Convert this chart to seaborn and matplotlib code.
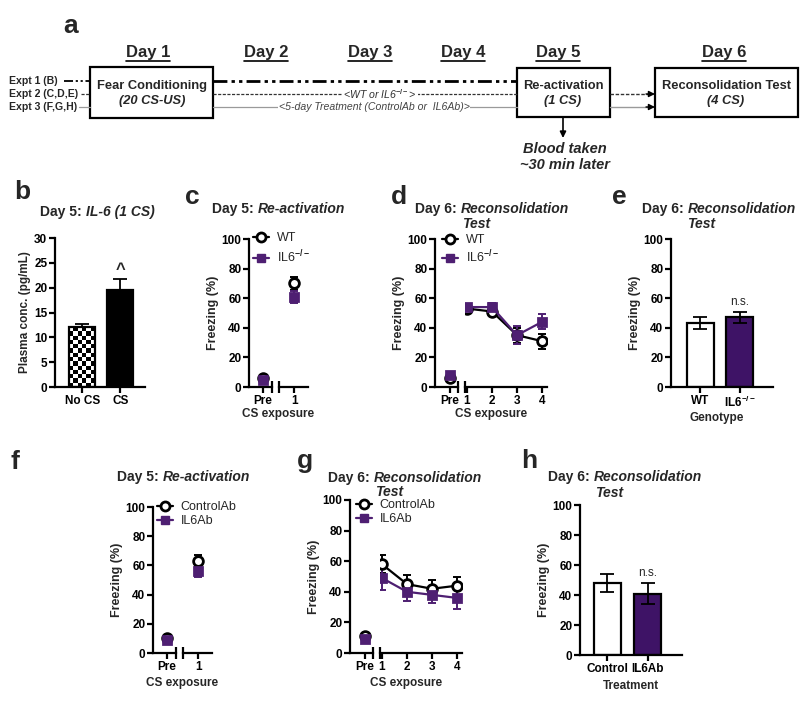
import numpy as np
import pandas as pd
import matplotlib
matplotlib.use("Agg")
import matplotlib.pyplot as plt
import seaborn as sns
from matplotlib.lines import Line2D

# ---------------- data ----------------
# panel b: plasma IL-6
b_groups = ["No CS", "CS"]
b_mean = [12.0, 19.5]
b_sem = [0.7, 2.2]

# panel c: Day 5 re-activation (genotype)
c_names = ["WT", "IL6"]
c_pre_mean = [6, 5]
c_pre_sem = [1, 1]
c_trials = [1]
c_mean = {"WT": [70], "IL6": [61]}
c_sem = {"WT": [4.5], "IL6": [4]}

# panel d: Day 6 reconsolidation test (genotype)
d_pre_mean = [6, 8]
d_pre_sem = [1.5, 1.5]
d_trials = [1, 2, 3, 4]
d_mean = {"WT": [53, 51, 35, 31], "IL6": [54, 54, 35, 44]}
d_sem = {"WT": [2, 1.5, 5, 5], "IL6": [2, 3, 6, 5]}

# panel e: Day 6 mean (genotype)
e_groups = ["WT", "IL6"]
e_mean = [43, 47]
e_sem = [4, 4]

# panel f: Day 5 re-activation (treatment)
f_names = ["ControlAb", "IL6Ab"]
f_pre_mean = [10, 9]
f_pre_sem = [1, 1]
f_trials = [1]
f_mean = {"ControlAb": [63], "IL6Ab": [56]}
f_sem = {"ControlAb": [4], "IL6Ab": [4]}

# panel g: Day 6 reconsolidation test (treatment)
g_pre_mean = [11, 9]
g_pre_sem = [2, 1.5]
g_trials = [1, 2, 3, 4]
g_mean = {"ControlAb": [58, 45, 42, 44], "IL6Ab": [49, 40, 38, 36]}
g_sem = {"ControlAb": [6, 6, 6, 6], "IL6Ab": [8, 6, 5.5, 7]}

# panel h: Day 6 mean (treatment)
h_groups = ["Control", "IL6Ab"]
h_mean = [48, 41]
h_sem = [6, 7]

# diagram (panel a)
day_labels = ["Day 1", "Day 2", "Day 3", "Day 4", "Day 5", "Day 6"]
expt_labels = ["Expt 1 (B)", "Expt 2 (C,D,E)", "Expt 3 (F,G,H)"]

# ---------------- style ----------------
sns.set_theme(style="ticks")
plt.rcParams["font.family"] = ["Liberation Sans", "DejaVu Sans"]
plt.rcParams["font.weight"] = "bold"
plt.rcParams["axes.labelweight"] = "bold"
plt.rcParams["mathtext.fontset"] = "custom"
plt.rcParams["mathtext.rm"] = "Liberation Sans"
plt.rcParams["mathtext.it"] = "Liberation Sans:italic"
plt.rcParams["mathtext.bf"] = "Liberation Sans:bold"

PURPLE = "#4E1F72"
BAR_PURPLE = "#3E1366"
BLACK = "black"

W, H = 800, 702
fig = plt.figure(figsize=(8, 7.02), dpi=100)
ax_a = fig.add_axes([0, 0, 1, 1])
ax_a.set_xlim(0, W)
ax_a.set_ylim(H, 0)
ax_a.axis("off")


def add_ax(x0, x1, ytop, ybot):
    return fig.add_axes([x0 / W, 1 - ybot / H, (x1 - x0) / W, (ybot - ytop) / H])


def style_ax(ax, left=True):
    for s in ["top", "right"]:
        ax.spines[s].set_visible(False)
    ax.spines["left"].set_visible(left)
    ax.spines["bottom"].set_linewidth(1.6)
    ax.spines["left"].set_linewidth(1.6)
    ax.spines["bottom"].set_color("black")
    ax.spines["left"].set_color("black")
    ax.tick_params(axis="both", direction="out", length=4, width=1.6,
                   labelsize=8.5, pad=1.5, color="black", labelcolor="black")
    if not left:
        ax.tick_params(axis="y", left=False, labelleft=False)
    ax.set_facecolor("none")
    ax.set_xlabel("")
    ax.set_ylabel("")


# ---------------- panel a: diagram ----------------
ax_a.text(71, 26, "a", fontsize=19, ha="center", va="center")
day_x = [148, 266, 370, 463, 558, 724]
for lab, x in zip(day_labels, day_x):
    t = ax_a.text(x, 53, lab, fontsize=12, ha="center", va="center")
fig.canvas.draw()
rend = fig.canvas.get_renderer()
for t in ax_a.texts[1:]:
    bb = t.get_window_extent(rend)
    ax_a.plot([bb.x0, bb.x1], [H - bb.y0 + 0.5, H - bb.y0 + 0.5], color="black", lw=1.2)

ys = [81, 94, 107]
for lab, y in zip(expt_labels, ys):
    ax_a.text(9, y, lab, fontsize=7.6, ha="left", va="center")

box_kw = dict(fill=False, ec="black", lw=1.6)
boxes = [(90, 67, 123, 51), (517, 68, 93, 49), (655, 68, 143, 49)]
for (x, y, w, h) in boxes:
    ax_a.add_patch(plt.Rectangle((x, y), w, h, **box_kw))

ax_a.text(152, 86, "Fear Conditioning", fontsize=9.3, ha="center", va="center")
ax_a.text(152, 101, "(20 CS-US)", fontsize=9.3, ha="center", va="center", style="italic")
ax_a.text(563, 86, "Re-activation", fontsize=9.3, ha="center", va="center")
ax_a.text(563, 101, "(1 CS)", fontsize=9.3, ha="center", va="center", style="italic")
ax_a.text(726, 86, "Reconsolidation Test", fontsize=9.3, ha="center", va="center")
ax_a.text(726, 101, "(4 CS)", fontsize=9.3, ha="center", va="center", style="italic")

ls1 = (0, (5, 1.5, 1.2, 1.5, 1.2, 1.5))
ax_a.plot([64, 90], [81, 81], color="black", lw=1.3, ls=ls1)
ax_a.plot([213, 517], [81, 81], color="black", lw=2.0, ls=ls1)
ax_a.plot([81, 90], [94, 94], color="#333333", lw=0.9, ls=(0, (2.5, 1.2)))
ax_a.plot([213, 517], [94, 94], color="#333333", lw=0.9, ls=(0, (2.5, 1.2)))
ax_a.plot([610, 650], [94, 94], color="#333333", lw=1.0, ls=(0, (2.5, 1.2)))
ax_a.plot([79, 90], [107, 107], color="#9a9a9a", lw=0.9)
ax_a.plot([213, 517], [107, 107], color="#9a9a9a", lw=0.9)
ax_a.plot([610, 650], [107, 107], color="#9a9a9a", lw=1.0)
for y in [94, 107]:
    ax_a.annotate("", xy=(655, y), xytext=(646, y),
                  arrowprops=dict(arrowstyle="-|>", color="black", lw=1, mutation_scale=9,
                                  shrinkA=0, shrinkB=0))
ax_a.text(380, 94, r"<WT or IL6$^{-/-}$>", fontsize=7.6, fontweight="normal", style="italic",
          ha="center", va="center", color="#333333",
          bbox=dict(fc="white", ec="none", pad=0.5))
ax_a.text(374, 107, "<5-day Treatment (ControlAb or  IL6Ab)>", fontsize=7.6, fontweight="normal",
          style="italic", ha="center", va="center", color="#444444",
          bbox=dict(fc="white", ec="none", pad=0.5))
ax_a.annotate("", xy=(563, 138), xytext=(563, 118),
              arrowprops=dict(arrowstyle="-|>", color="black", lw=1.2, mutation_scale=9,
                              shrinkA=0, shrinkB=0))
ax_a.text(565, 149, "Blood taken", fontsize=10.5, style="italic", ha="center", va="center")
ax_a.text(565, 165, "~30 min later", fontsize=10.5, style="italic", ha="center", va="center")


# ---------------- helpers ----------------
def panel_title(x, y, bold, ital, y2=None, x2=None):
    t = ax_a.text(x, y, bold, fontsize=10, ha="left", va="center")
    ax_a.annotate(ital, xy=(1, 0), xycoords=t, fontsize=10, style="italic",
                  ha="left", va="bottom")
    if y2 is not None:
        ax_a.text(x2, y2, "Test", fontsize=10, style="italic", ha="left", va="center")


def bar_panel(ax, groups, means, sems, colors, ylim, yticks, upper_only=False, capsize=5,
              xlim=None):
    sns.barplot(x=groups, y=means, hue=groups, palette=colors, legend=False, ax=ax,
                width=0.68, edgecolor="black", linewidth=1.6, saturation=1)
    lower = [0] * len(sems) if upper_only else sems
    ax.errorbar(range(len(groups)), means, yerr=[lower, sems], fmt="none", ecolor="black",
                elinewidth=1.3, capsize=capsize, capthick=1.3, zorder=3)
    ax.set_ylim(*ylim)
    ax.set_yticks(yticks)
    if xlim:
        ax.set_xlim(*xlim)
    style_ax(ax)


def line_panel(ax_pre, ax_main, names, pre_mean, pre_sem, trials, means, sems,
               pre_xlim, main_xlim, capsize=3):
    colors = [BLACK, PURPLE]
    markers = {names[0]: "o", names[1]: "s"}
    pal = {names[0]: BLACK, names[1]: PURPLE}
    df_pre = pd.DataFrame({"trial": [0] * len(names), "group": names, "freezing": pre_mean})
    rows = []
    for n in names:
        for t, v in zip(trials, means[n]):
            rows.append({"trial": t, "group": n, "freezing": v})
    df = pd.DataFrame(rows)
    for ax, d in [(ax_pre, df_pre), (ax_main, df)]:
        sns.lineplot(data=d, x="trial", y="freezing", hue="group", style="group",
                     hue_order=names, style_order=names, markers=markers, dashes=False,
                     palette=pal, ax=ax, legend=False, linewidth=1.6, markersize=7,
                     markeredgewidth=2, zorder=3)
        for ln, c, n in zip(ax.lines, colors, names):
            ln.set_markeredgecolor(c)
            ln.set_markerfacecolor("white" if n == names[0] else c)
            if n != names[0]:
                ln.set_markersize(6.3)
    for n, c, pm, ps in zip(names, colors, pre_mean, pre_sem):
        ax_pre.errorbar([0], [pm], yerr=[ps], fmt="none", ecolor=c, elinewidth=1.4,
                        capsize=capsize, capthick=1.4, zorder=2)
        ax_main.errorbar(trials, means[n], yerr=sems[n], fmt="none", ecolor=c,
                         elinewidth=1.4, capsize=capsize, capthick=1.4, zorder=2)
    for ax in (ax_pre, ax_main):
        ax.set_ylim(0, 100)
    ax_pre.set_xlim(*pre_xlim)
    ax_main.set_xlim(*main_xlim)
    ax_pre.set_xticks([0])
    ax_pre.set_xticklabels(["Pre"])
    ax_pre.set_yticks([0, 20, 40, 60, 80, 100])
    ax_main.set_xticks(trials)
    ax_main.set_xticklabels([str(t) for t in trials])
    style_ax(ax_pre)
    style_ax(ax_main, left=False)
    ax_pre.plot([1], [0], marker="|", ms=9, mew=1.6, color="black",
                transform=ax_pre.transAxes, clip_on=False)
    ax_main.plot([0], [0], marker="|", ms=9, mew=1.6, color="black",
                 transform=ax_main.transAxes, clip_on=False)


def legend(x, y, labels, spacing):
    h1 = Line2D([], [], color=BLACK, marker="o", mfc="white", mec=BLACK, mew=2, ms=6.5, lw=1.6)
    h2 = Line2D([], [], color=PURPLE, marker="s", mfc=PURPLE, mec=PURPLE, ms=6, lw=1.6)
    fig.legend([h1, h2], labels, loc="upper left", bbox_to_anchor=(x / W, 1 - y / H),
               frameon=False, prop={"size": 9, "weight": "normal"}, handlelength=1.3,
               handletextpad=0.6, borderpad=0, borderaxespad=0, labelspacing=spacing)


# ---------------- panel b ----------------
ax_a.text(22, 192, "b", fontsize=19, ha="center", va="center")
panel_title(40, 212, "Day 5: ", "IL-6 (1 CS)")
ax_b = add_ax(55, 145, 238, 387)
bar_panel(ax_b, b_groups, b_mean, b_sem, ["white", "black"], (0, 30), [0, 5, 10, 15, 20, 25, 30],
          upper_only=True, capsize=5, xlim=(-0.72, 1.65))
ax_b.set_ylabel("Plasma conc. (pg/mL)", fontsize=8.5, labelpad=2)
# checkerboard fill for the "No CS" bar
p = ax_b.patches[0]
x0, w, h = p.get_x(), p.get_width(), p.get_height()
disp = ax_b.transData.transform([[x0, 0], [x0 + w, h]])
pw, ph = disp[1] - disp[0]
ncols = 6
nrows = max(1, int(round(ncols * ph / pw)))
checker = np.add.outer(np.arange(nrows), np.arange(ncols)) % 2
im = ax_b.imshow(checker, extent=[x0, x0 + w, 0, h], cmap="gray", origin="lower",
                 aspect="auto", interpolation="nearest", zorder=p.get_zorder() - 0.1)
im.set_clip_path(p)
p.set_facecolor("none")
ax_b.set_xlim(-0.72, 1.65)
ax_b.set_ylim(0, 30)
ax_b.text(1, b_mean[1] + b_sem[1] + 0.4, "^", fontsize=12, ha="center", va="bottom")

# ---------------- panel c ----------------
ax_a.text(192, 197, "c", fontsize=19, ha="center", va="center")
panel_title(212, 209, "Day 5: ", "Re-activation")
c_pre = add_ax(249, 272, 239, 387)
c_main = add_ax(279, 308, 239, 387)
line_panel(c_pre, c_main, c_names, c_pre_mean, c_pre_sem, c_trials, c_mean, c_sem,
           (-0.6, 0.4), (0.48, 1.48))
c_pre.set_ylabel("Freezing (%)", fontsize=9, labelpad=2)
ax_a.text((249 + 308) / 2, 414, "CS exposure", fontsize=8.5, ha="center", va="center")
legend(253, 232, ["WT", r"IL6$^{-/-}$"], 0.35)

# ---------------- panel d ----------------
ax_a.text(399, 197, "d", fontsize=19, ha="center", va="center")
panel_title(415, 209, "Day 6: ", "Reconsolidation", y2=224, x2=462)
d_pre = add_ax(435, 458, 239, 387)
d_main = add_ax(465, 547, 239, 387)
line_panel(d_pre, d_main, c_names, d_pre_mean, d_pre_sem, d_trials, d_mean, d_sem,
           (-0.65, 0.35), (0.92, 4.2))
d_pre.set_ylabel("Freezing (%)", fontsize=9, labelpad=2)
ax_a.text((435 + 547) / 2, 414, "CS exposure", fontsize=8.5, ha="center", va="center")
legend(442, 234, ["WT", r"IL6$^{-/-}$"], 0.2)

# ---------------- panel e ----------------
ax_a.text(619, 197, "e", fontsize=19, ha="center", va="center")
panel_title(642, 209, "Day 6: ", "Reconsolidation", y2=224, x2=687)
ax_e = add_ax(671, 773, 239, 387)
bar_panel(ax_e, e_groups, e_mean, e_sem, ["white", BAR_PURPLE], (0, 100),
          [0, 20, 40, 60, 80, 100], capsize=5, xlim=(-0.73, 1.83))
ax_e.set_xticks([0, 1])
ax_e.set_xticklabels(["WT", r"$\mathbf{IL6^{-/-}}$"])
ax_e.set_ylabel("Freezing (%)", fontsize=9, labelpad=2)
ax_e.text(1, e_mean[1] + e_sem[1] + 2.5, "n.s.", fontsize=8.5, fontweight="normal",
          ha="center", va="bottom")
ax_a.text(717, 418, "Genotype", fontsize=8.5, ha="center", va="center")

# ---------------- panel f ----------------
ax_a.text(15, 462, "f", fontsize=19, ha="center", va="center")
panel_title(117, 477, "Day 5: ", "Re-activation")
f_pre = add_ax(153, 176, 507, 653)
f_main = add_ax(183, 212, 507, 653)
line_panel(f_pre, f_main, f_names, f_pre_mean, f_pre_sem, f_trials, f_mean, f_sem,
           (-0.6, 0.4), (0.48, 1.48))
f_pre.set_ylabel("Freezing (%)", fontsize=9, labelpad=2)
ax_a.text((153 + 212) / 2, 683, "CS exposure", fontsize=8.5, ha="center", va="center")
legend(157, 501, ["ControlAb", "IL6Ab"], 0.15)

# ---------------- panel g ----------------
ax_a.text(305, 461, "g", fontsize=19, ha="center", va="center")
panel_title(328, 478, "Day 6: ", "Reconsolidation", y2=492, x2=375)
g_pre = add_ax(350, 373, 500, 653)
g_main = add_ax(380, 462, 500, 653)
line_panel(g_pre, g_main, f_names, g_pre_mean, g_pre_sem, g_trials, g_mean, g_sem,
           (-0.65, 0.35), (0.92, 4.2))
g_pre.set_ylabel("Freezing (%)", fontsize=9, labelpad=2)
ax_a.text((350 + 462) / 2, 683, "CS exposure", fontsize=8.5, ha="center", va="center")
legend(356, 499, ["ControlAb", "IL6Ab"], 0.15)

# ---------------- panel h ----------------
ax_a.text(529, 461, "h", fontsize=19, ha="center", va="center")
panel_title(548, 477, "Day 6: ", "Reconsolidation", y2=493, x2=595)
ax_h = add_ax(580, 682, 505, 655)
bar_panel(ax_h, h_groups, h_mean, h_sem, ["white", BAR_PURPLE], (0, 100),
          [0, 20, 40, 60, 80, 100], capsize=5, xlim=(-0.68, 1.85))
ax_h.set_ylabel("Freezing (%)", fontsize=9, labelpad=2)
ax_h.text(1, h_mean[1] + h_sem[1] + 2.5, "n.s.", fontsize=8.5, fontweight="normal",
          ha="center", va="bottom")
ax_a.text(631, 686, "Treatment", fontsize=8.5, ha="center", va="center")

fig.savefig("out.png", dpi=100, facecolor="white")
